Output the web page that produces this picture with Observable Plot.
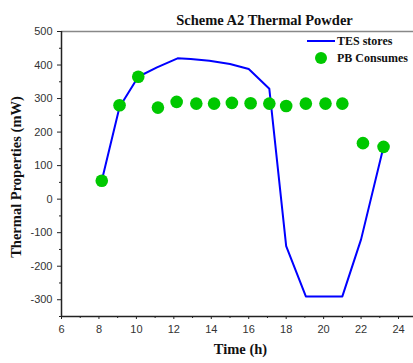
<!DOCTYPE html>
<html>
<head>
<meta charset="utf-8">
<script src="https://cdn.jsdelivr.net/npm/d3@7"></script>
<script src="https://cdn.jsdelivr.net/npm/@observablehq/plot@0.6"></script>
<style>
  body { margin: 0; background: #fff; }
  #wrap { position: relative; width: 413px; height: 363px; }
  #legend { position: absolute; left: 306px; top: 32px; font-family: "Liberation Serif", serif; font-weight: bold; font-size: 12px; color: #111; line-height: 16px; }
  #legend .row { display: flex; align-items: center; height: 17px; }
  #legend svg { width: 30px; height: 16px; margin-right: 1px; }
</style>
</head>
<body>
<div id="wrap"></div>
<script>
const title = "Scheme A2 Thermal Powder";
const xLabel = "Time (h)";
const yLabel = "Thermal Properties (mW)";
const seriesNames = ["TES stores", "PB Consumes"];
const seriesColors = ["#0000ff", "#00c800"];

const tesTime  = [8.15, 9.1, 10.1, 11.1, 12.2, 12.9, 13.9, 15.0, 16.0, 17.1, 18.0, 19.05, 21.0, 22.0, 23.2];
const tesValue = [55, 275, 365, 393, 420, 418, 413, 403, 388, 329, -140, -290, -290, -120, 156];

const pbTime  = [8.15, 9.1, 10.1, 11.15, 12.15, 13.2, 14.15, 15.1, 16.1, 17.1, 18.0, 19.05, 20.1, 21.0, 22.1, 23.2];
const pbValue = [55, 280, 365, 273, 290, 285, 285, 287, 286, 285, 278, 285, 285, 285, 167, 156];

const xTicks = [6, 8, 10, 12, 14, 16, 18, 20, 22, 24];
const xMinor = [7, 9, 11, 13, 15, 17, 19, 21, 23];
const yTicks = [-300, -200, -100, 0, 100, 200, 300, 400, 500];
const yMinor = [-350, -250, -150, -50, 50, 150, 250, 350, 450];

const tes = tesTime.map((t, i) => ({t, v: tesValue[i]}));
const pb = pbTime.map((t, i) => ({t, v: pbValue[i]}));

const tickFont = "Liberation Sans, Arial, sans-serif";
const labelFont = "Liberation Serif, Times New Roman, serif";
const fmt = d => String(d);

const chart = Plot.plot({
  width: 413,
  height: 363,
  marginLeft: 61,
  marginRight: 0,
  marginTop: 31,
  marginBottom: 47,
  x: {domain: [6, 24.8], label: null},
  y: {domain: [-350, 500], label: null},
  style: {fontFamily: tickFont, fontSize: "11px", color: "#333", background: "#fff"},
  marks: [
    Plot.ruleY([500], {stroke: "#888", strokeWidth: 1.5}),
    Plot.axisX({ticks: xMinor, tickSize: 2, text: null, stroke: "#222", label: null}),
    Plot.axisX({ticks: xTicks, tickSize: 3, tickPadding: 6, tickFormat: fmt, fontFamily: tickFont, fontSize: 11, fill: "#333", stroke: "#222", label: null}),
    Plot.axisY({ticks: yMinor, tickSize: 2, text: null, stroke: "#222", label: null}),
    Plot.axisY({ticks: yTicks, tickSize: 4, tickPadding: 5, tickFormat: fmt, fontFamily: tickFont, fontSize: 11, fill: "#333", stroke: "#222", label: null}),
    Plot.ruleX([6], {stroke: "#222", strokeWidth: 1.5}),
    Plot.ruleY([-350], {stroke: "#222", strokeWidth: 1.5}),
    Plot.line(tes, {x: "t", y: "v", stroke: seriesColors[0], strokeWidth: 2}),
    Plot.dot(pb, {x: "t", y: "v", r: 6.3, fill: seriesColors[1], stroke: null}),
    Plot.text([title], {frameAnchor: "top", dx: 27, dy: -17, fontFamily: labelFont, fontWeight: "bold", fontSize: 14.5, fill: "#111"}),
    Plot.text([xLabel], {frameAnchor: "bottom", dx: 3, dy: 37, fontFamily: labelFont, fontWeight: "bold", fontSize: 14.5, fill: "#111"}),
    Plot.text([yLabel], {frameAnchor: "left", textAnchor: "middle", dx: -45, dy: 3, rotate: -90, fontFamily: labelFont, fontWeight: "bold", fontSize: 14.5, fill: "#111"})
  ]
});
const wrap = document.getElementById("wrap");
wrap.appendChild(chart);

const legend = document.createElement("div");
legend.id = "legend";
legend.innerHTML = `
  <div class="row"><svg viewBox="0 0 30 16"><line x1="1" y1="8" x2="29" y2="8" stroke="${seriesColors[0]}" stroke-width="2"/></svg><span>${seriesNames[0]}</span></div>
  <div class="row"><svg viewBox="0 0 30 16"><circle cx="15" cy="8" r="6" fill="${seriesColors[1]}"/></svg><span>${seriesNames[1]}</span></div>`;
wrap.appendChild(legend);
</script>
</body>
</html>
